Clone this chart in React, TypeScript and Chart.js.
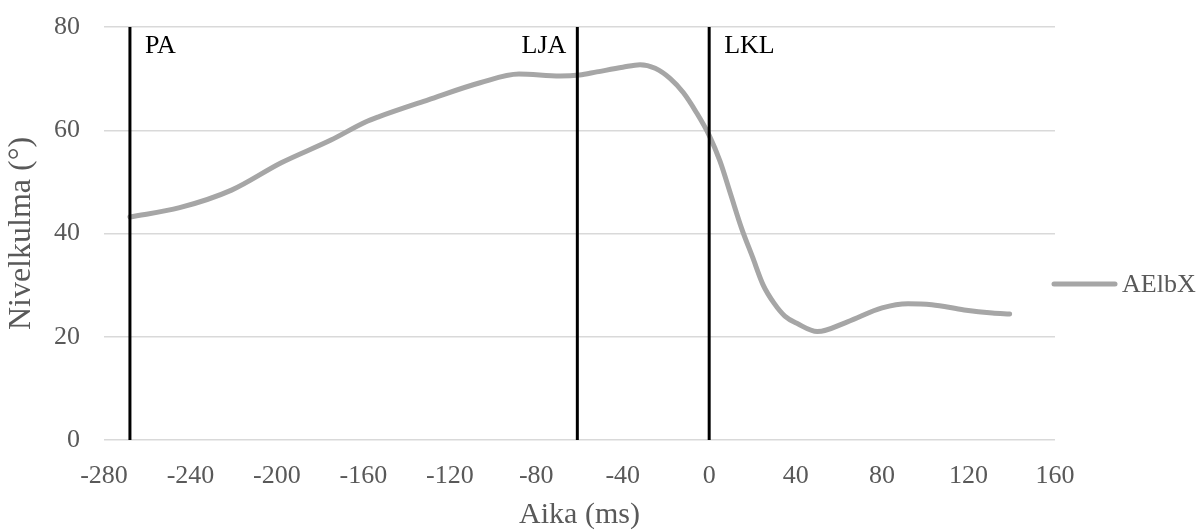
import React, { useEffect, useRef } from 'react';
import { Chart, registerables } from 'chart.js';

Chart.register(...registerables);

// ---- Data ----
const timeMs = [-268, -245, -221, -198, -175, -159, -153, -130, -106, -88, -69, -60, -52, -40, -32, -25, -18, -12, -6, 0, 5, 10, 15, 20, 25, 30, 35, 41, 50, 64, 80, 92, 103, 118, 131, 139];
const angleDeg = [43.2, 45, 48.4, 53.7, 58.1, 61.6, 62.6, 65.9, 69.2, 70.9, 70.5, 70.7, 71.3, 72.2, 72.7, 72.0, 70.0, 67.3, 63.5, 59, 54, 47.5, 41, 35.5, 30, 26.5, 24, 22.5, 21, 22.9, 25.6, 26.4, 26.2, 25.2, 24.6, 24.4];
const markerNames = ['PA', 'LJA', 'LKL'];
const markerTimes = [-268, -61, 0];
const markerSides = ['right', 'left', 'right'];
const seriesName = 'AElbX';
const xTitle = 'Aika (ms)';
const yTitle = 'Nivelkulma (°)';
const xMin = -280;
const xMax = 160;
const xStep = 40;
const yMin = 0;
const yMax = 80;
const yStep = 20;

const FONT = "'Liberation Serif', 'Times New Roman', serif";
const TEXT = '#595959';
const SERIES = '#a6a6a6';

const overlay = {
  id: 'overlay',
  afterDatasetsDraw(chart: any) {
    const { ctx, scales } = chart;
    const x = scales.x;
    const y = scales.y;
    ctx.save();
    ctx.font = `26px ${FONT}`;
    ctx.fillStyle = '#000';
    ctx.textBaseline = 'alphabetic';
    const baseY = y.getPixelForValue(yMax) + 26;
    markerNames.forEach((name, i) => {
      const px = x.getPixelForValue(markerTimes[i]);
      if (markerSides[i] === 'left') {
        ctx.textAlign = 'right';
        ctx.fillText(name, px - 11, baseY);
      } else {
        ctx.textAlign = 'left';
        ctx.fillText(name, px + 15, baseY);
      }
    });
    // legend
    const ly = 284;
    const lx = 1052;
    ctx.strokeStyle = SERIES;
    ctx.lineWidth = 5;
    ctx.lineCap = 'round';
    ctx.beginPath();
    ctx.moveTo(lx + 2, ly);
    ctx.lineTo(lx + 63, ly);
    ctx.stroke();
    ctx.fillStyle = TEXT;
    ctx.font = `26px ${FONT}`;
    ctx.textAlign = 'left';
    ctx.textBaseline = 'middle';
    ctx.fillText(seriesName, lx + 70, ly + 1);
    ctx.restore();
  },
};

export default function App() {
  const ref = useRef<HTMLCanvasElement | null>(null);
  useEffect(() => {
    if (!ref.current) return;
    const markerSets = markerTimes.map((t, i) => ({
      label: markerNames[i],
      data: [
        { x: t, y: yMin },
        { x: t, y: yMax },
      ],
      borderColor: '#000',
      borderWidth: 3,
      pointRadius: 0,
      showLine: true,
      fill: false,
      order: 0,
    }));
    const chart = new Chart(ref.current, {
      type: 'scatter',
      data: {
        datasets: [
          {
            label: seriesName,
            data: timeMs.map((t, i) => ({ x: t, y: angleDeg[i] })),
            borderColor: SERIES,
            backgroundColor: SERIES,
            borderWidth: 5,
            pointRadius: 0,
            showLine: true,
            fill: false,
            tension: 0.4,
            cubicInterpolationMode: 'monotone',
            borderCapStyle: 'round',
            borderJoinStyle: 'round',
            order: 1,
          } as any,
          ...markerSets,
        ],
      },
      options: {
        animation: false,
        responsive: false,
        maintainAspectRatio: false,
        layout: { padding: { left: 0, right: 146, top: 27, bottom: 0 } },
        plugins: {
          legend: { display: false },
          tooltip: { enabled: false },
        },
        scales: {
          x: {
            type: 'linear',
            min: xMin,
            max: xMax,
            ticks: {
              stepSize: xStep,
              color: TEXT,
              font: { family: FONT, size: 26 },
              padding: 13,
              maxRotation: 0,
            },
            grid: { display: false },
            border: { display: false },
            title: {
              display: true,
              text: xTitle,
              color: TEXT,
              font: { family: FONT, size: 30, lineHeight: 1 },
              padding: 0,
            },
            afterFit: (s: any) => {
              s.height = 90;
              s.paddingLeft = 0;
              s.paddingRight = 0;
            },
          },
          y: {
            min: yMin,
            max: yMax,
            ticks: {
              stepSize: yStep,
              color: TEXT,
              font: { family: FONT, size: 26 },
              padding: 24,
            },
            grid: { color: '#d9d9d9', lineWidth: 1.5, drawTicks: false },
            border: { display: false },
            title: {
              display: true,
              text: yTitle,
              color: TEXT,
              font: { family: FONT, size: 32, lineHeight: 1.2 },
              padding: 2,
            },
            afterFit: (s: any) => {
              s.width = 104;
              s.paddingTop = 0;
              s.paddingBottom = 0;
            },
          },
        },
      } as any,
      plugins: [overlay],
    });
    return () => chart.destroy();
  }, []);
  return (
    <div style={{ position: 'fixed', left: 0, top: 0, width: 1201, height: 530, background: '#fff' }}>
      <canvas ref={ref} width={1201} height={530} style={{ width: 1201, height: 530 }} />
    </div>
  );
}
